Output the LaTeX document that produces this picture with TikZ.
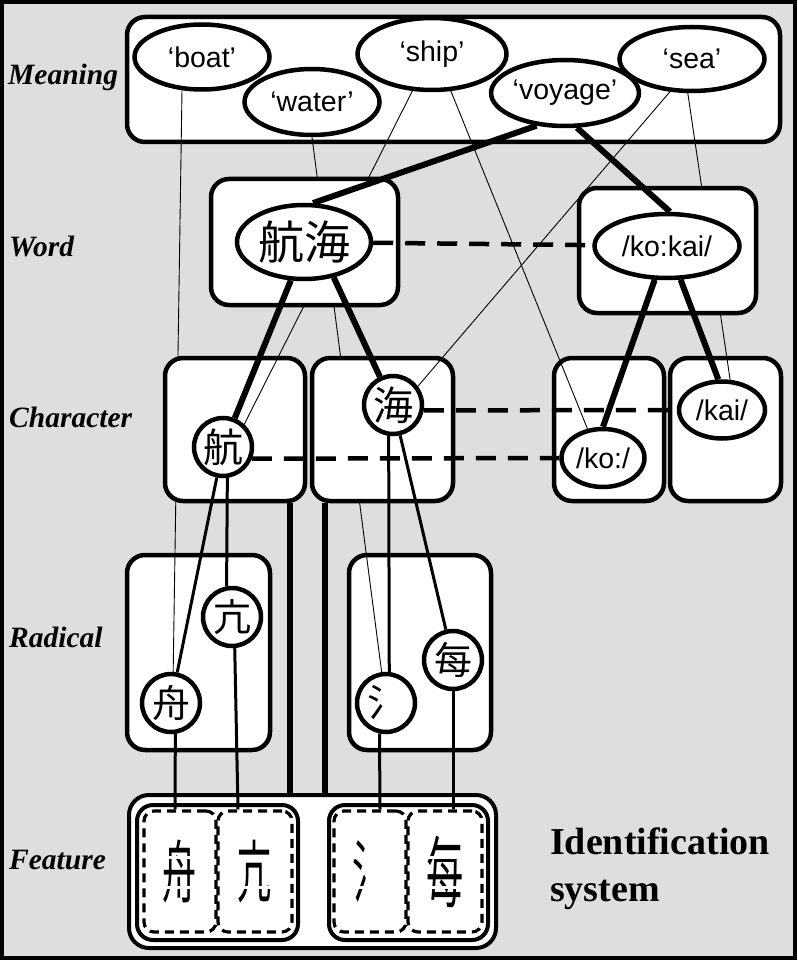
\documentclass[tikz,border=0pt]{standalone}
\usepackage{graphicx}
\usepackage{fontspec}
\setmainfont{Liberation Serif}
\setsansfont{Liberation Sans}
\newfontfamily\cjk{Noto Sans CJK JP}
\usetikzlibrary{shapes.geometric}
\definecolor{panel}{gray}{0.87}

\begin{document}
\begin{tikzpicture}[x=1pt,y=-1pt,
  box/.style={draw,fill=white,line width=4.5pt,rounded corners=18pt,rectangle,inner sep=0pt},
  mean/.style={draw,fill=white,ellipse,line width=4.5pt,inner sep=0pt,font=\sffamily\fontsize{28.5}{30}\selectfont},
  glyph/.style={draw,fill=white,circle,line width=4.5pt,inner sep=0pt,minimum size=58pt,font=\cjk\fontsize{38}{38}\selectfont},
  layer/.style={anchor=base west,inner sep=0pt,font=\bfseries\itshape\fontsize{29.5}{31}\selectfont},
  fine/.style={line width=0.9pt},
  mid/.style={line width=3pt},
  heavy/.style={line width=6pt},
  link/.style={line width=4.5pt,dash pattern=on 20pt off 12pt},
  fbox/.style={draw,fill=white,line width=4pt,rounded corners=16pt,rectangle,inner sep=0pt},
  fdash/.style={draw,line width=3.2pt,dash pattern=on 9pt off 6pt,rounded corners=10pt,rectangle,inner sep=0pt,
    minimum height=121pt,font=\cjk\fontsize{62}{62}\selectfont}]
\useasboundingbox (0,0) rectangle (797,960);
\fill[panel] (0,0) rectangle (797,960);
\draw[line width=4pt] (2,2) rectangle (795,958);

% layer names
\node[layer] at (8,85) {Meaning};
\node[layer] at (9,256) {Word};
\node[layer] at (9,427) {Character};
\node[layer] at (9,647) {Radical};
\node[layer] at (9,869) {Feature};

% meaning and radical levels
\node[box,minimum width=653pt,minimum height=125pt] (mbox) at (453.5,79.5) {};
\node[box,minimum width=143pt,minimum height=195pt] (rbl) at (198.5,652.5) {};
\node[box,minimum width=142pt,minimum height=195pt] (rbr) at (420,652.5) {};

\node[mean,minimum width=135pt,minimum height=65pt] (boat) at (202,57) {‘boat’};
\node[mean,minimum width=135pt,minimum height=66pt] (water) at (312,102) {‘water’};
\node[mean,minimum width=149pt,minimum height=72pt] (ship) at (432,54) {‘ship’};
\node[mean,minimum width=145pt,minimum height=66pt] (voyage) at (565,93) {‘voyage’};
\node[mean,minimum width=145pt,minimum height=64pt] (sea) at (692,59) {‘sea’};

\node[glyph] (kang) at (232,617) {亢};
\node[glyph] (zhou) at (171,703) {舟};
\node[glyph] (shui) at (386,703) {氵};
\node[glyph] (mei) at (453,660) {每};

\draw[fine] (boat.239) -- (zhou.86);
\draw[fine] (water.south) -- (shui.98);

% character level
\node[box,minimum width=140pt,minimum height=143pt] (cbhang) at (235,429.5) {};
\node[box,minimum width=141pt,minimum height=143pt] (cbhai) at (382.5,429.5) {};
\node[box,minimum width=110pt,minimum height=143pt] (cbko) at (609,429.5) {};
\node[box,minimum width=111pt,minimum height=143pt] (cbkai) at (725.5,429.5) {};

\node[glyph,font=\cjk\fontsize{40}{40}\selectfont] (hang) at (223,447) {航};
\node[glyph,font=\cjk\fontsize{40}{40}\selectfont] (hai) at (393,405) {海};
\node[mean,minimum width=83pt,minimum height=58pt] (ko) at (603,458) {/ko:/};
\node[mean,minimum width=86pt,minimum height=57pt] (kai) at (722,410) {/kai/};

\draw[fine] (ship.242) -- (hang.47);
\draw[fine] (ship.297) -- (ko.118);
\draw[fine] (sea.236) -- (hai.37);
\draw[fine] (sea.263) -- (kai.75);

% word level
\node[box,minimum width=187pt,minimum height=126pt] (wbhang) at (304.5,242) {};
\node[box,minimum width=177pt,minimum height=125pt] (wbko) at (667.5,250.5) {};
\node[mean,minimum width=134pt,minimum height=74pt,font=\cjk\fontsize{46}{46}\selectfont] (hanghai) at (304,242) {航海};
\node[mean,minimum width=145pt,minimum height=64pt] (kokai) at (667,246) {/ko:kai/};

\draw[heavy] (voyage.229) -- (hanghai.77);
\draw[heavy] (voyage.289) -- (kokai.85);
\draw[heavy] (hanghai.251) -- (hang);
\draw[heavy] (hanghai.310) -- (hai);
\draw[heavy] (kokai.250) -- (ko.north);
\draw[heavy] (kokai.292) -- (kai.97);

\draw[mid] (hang) -- (zhou);
\draw[mid] (hang.-82) -- (kang.100);
\draw[mid] (hai.-98) -- (shui.84);
\draw[mid] (hai) -- (mei);

\draw[link] (hanghai) -- (kokai);
\draw[link] (hai.-10) -- (kai.west);
\draw[link] (hang.-22) -- (ko.west);

% feature level
\node[fbox,rounded corners=20pt,minimum width=367pt,minimum height=153pt] (fall) at (312.5,871.5) {};
\node[fbox,minimum width=161pt,minimum height=135pt] (fl) at (217.5,872.5) {};
\node[fbox,minimum width=159pt,minimum height=135pt] (fr) at (408.5,872.5) {};
\node[fdash,minimum width=72pt] (f1) at (180,871.5) {\scalebox{0.55}[1.1]{舟}};
\node[fdash,minimum width=74pt] (f2) at (255,871.5) {\scalebox{0.55}[1.1]{亢}};
\node[fdash,minimum width=72pt] (f3) at (370,871.5) {\scalebox{0.55}[1.1]{氵}};
\node[fdash,minimum width=74pt] (f4) at (445,871.5) {\scalebox{0.6}[1.25]{每}};
\foreach \g in {f1,f2,f3,f4}
  \foreach \dy in {-14,16}
    \draw[white,line width=2.5pt] ([shift={(-24,\dy)}]\g.center) -- ++(48,0);

\coordinate (va) at ([xshift=55pt]cbhang.south);
\coordinate (vb) at ([xshift=-57.5pt]cbhai.south);
\draw[heavy] (va) -- (va |- fall.north);
\draw[heavy] (vb) -- (vb |- fall.north);

\draw[mid] (zhou.-82) -- ([xshift=-5pt]f1.north);
\draw[mid] (kang.-85) -- ([xshift=-17pt]f2.north);
\draw[mid] (shui.-102) -- ([xshift=10pt]f3.north);
\draw[mid] (mei.south) -- ([xshift=8pt]f4.north);

\node[anchor=north west,inner sep=0pt,align=left,font=\bfseries\fontsize{38}{47}\selectfont] (idsys) at (550,828)
  {Identification\\system};
\end{tikzpicture}
\end{document}
